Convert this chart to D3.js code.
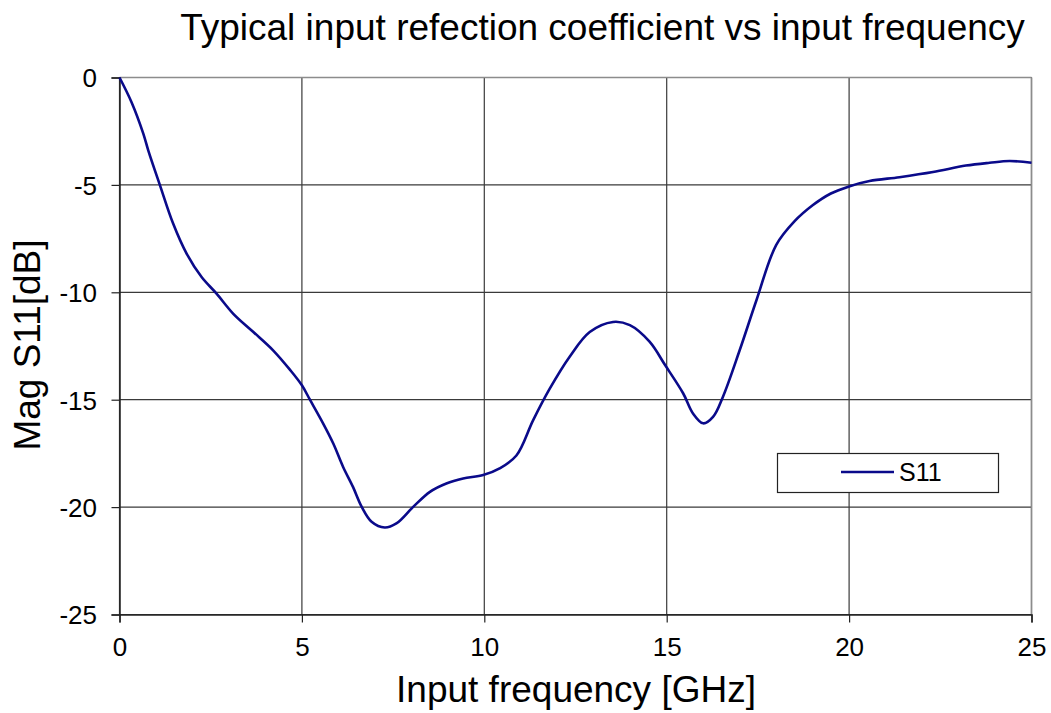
<!DOCTYPE html>
<html>
<head>
<meta charset="utf-8">
<script src="https://cdn.jsdelivr.net/npm/d3@7"></script>
<style>
body{margin:0;background:#fff;}
svg{display:block;font-family:"Liberation Sans",Arial,sans-serif;}
</style>
</head>
<body>
<svg id="chart" width="1051" height="713"></svg>
<script>
const freq = [0, 0.33, 0.65, 0.79, 1.11, 1.47, 1.84, 2.25, 2.66, 3.12, 3.67, 4.21, 4.67, 5.0, 5.22, 5.58, 5.86, 6.13, 6.4, 6.64, 6.91, 7.27, 7.59, 8.05, 8.51, 8.96, 9.42, 9.97, 10.42, 10.88, 11.34, 11.79, 12.34, 12.89, 13.53, 13.99, 14.53, 14.96, 15.45, 15.72, 16.0, 16.27, 16.54, 17.0, 17.46, 18.0, 18.5, 19.0, 19.5, 20.0, 20.56, 21.38, 22.3, 23.2, 23.85, 24.4, 25.0];
const s11 = [0, -1.15, -2.6, -3.4, -5.02, -6.8, -8.2, -9.29, -10.06, -11.0, -11.85, -12.7, -13.6, -14.33, -15.0, -16.1, -17.04, -18.13, -19.06, -19.99, -20.68, -20.95, -20.76, -19.99, -19.29, -18.9, -18.67, -18.51, -18.2, -17.6, -15.95, -14.5, -13.0, -11.85, -11.38, -11.53, -12.3, -13.4, -14.7, -15.64, -16.1, -15.8, -14.87, -12.7, -10.37, -7.8, -6.7, -5.95, -5.4, -5.07, -4.82, -4.64, -4.4, -4.1, -3.97, -3.89, -3.97];
const xTicks = [0, 5, 10, 15, 20, 25];
const yTicks = [0, -5, -10, -15, -20, -25];
const seriesName = "S11";
const titleText = "Typical input refection coefficient vs input frequency";
const xLabel = "Input frequency [GHz]";
const yLabel = "Mag S11[dB]";

const svg = d3.select("#chart");
const L = 119.5, R = 1031.5, T = 77.5, B = 614.5;
const x = d3.scaleLinear().domain([0, 25]).range([L, R]);
const y = d3.scaleLinear().domain([-25, 0]).range([B, T]);

// grid
const g = svg.append("g");
g.selectAll(".vg").data(xTicks).join("line")
  .attr("x1", d => x(d)).attr("x2", d => x(d)).attr("y1", T).attr("y2", B)
  .attr("stroke", "#3a3a3a").attr("stroke-width", 1.2);
g.selectAll(".hg").data(yTicks).join("line")
  .attr("x1", L).attr("x2", R).attr("y1", d => y(d)).attr("y2", d => y(d))
  .attr("stroke", "#3a3a3a").attr("stroke-width", 1.2);
svg.append("line").attr("x1", L).attr("x2", R).attr("y1", T).attr("y2", T).attr("stroke", "#8c8c8c").attr("stroke-width", 1.5);
svg.append("line").attr("x1", R).attr("x2", R).attr("y1", T).attr("y2", B).attr("stroke", "#8c8c8c").attr("stroke-width", 1.5);

// axes
const xAxis = d3.axisBottom(x).tickValues(xTicks).tickSize(8).tickFormat(d3.format("d"));
const yAxis = d3.axisLeft(y).tickValues(yTicks).tickSize(8).tickPadding(14.5).tickFormat(d => d === 0 ? "0" : "-" + Math.abs(d));
const xa = svg.append("g").attr("transform", `translate(0,${B})`).call(xAxis);
const ya = svg.append("g").attr("transform", `translate(${L},0)`).call(yAxis);
[xa, ya].forEach(a => {
  a.select(".domain").attr("stroke", "#222").attr("stroke-width", 1.5);
  a.selectAll(".tick line").attr("stroke", "#222").attr("stroke-width", 1.2);
  a.selectAll("text").attr("font-size", 26).attr("fill", "#000").attr("font-family", "Liberation Sans, Arial, sans-serif");
});
xa.selectAll("text").attr("y", 41.5).attr("dy", 0);
ya.selectAll("text").attr("dy", "0.36em");

// line
const data = freq.map((f, i) => ({f, v: s11[i]}));
svg.append("path").datum(data)
  .attr("fill", "none").attr("stroke", "#0a0a8a").attr("stroke-width", 2.6)
  .attr("d", d3.line().x(d => x(d.f)).y(d => y(d.v)).curve(d3.curveCatmullRom.alpha(0.5)));

// legend
const lg = svg.append("g");
lg.append("rect").attr("x", 777.5).attr("y", 453.5).attr("width", 221).attr("height", 39)
  .attr("fill", "#fff").attr("stroke", "#222").attr("stroke-width", 1.2);
lg.append("line").attr("x1", 841).attr("x2", 894).attr("y1", 472).attr("y2", 472)
  .attr("stroke", "#0a0a8a").attr("stroke-width", 2.4);
lg.append("text").attr("x", 899).attr("y", 481).attr("font-size", 25).text(seriesName);

// titles
svg.append("text").attr("x", 602.5).attr("y", 40).attr("text-anchor", "middle").attr("font-size", 37).text(titleText);
svg.append("text").attr("x", 576).attr("y", 702).attr("text-anchor", "middle").attr("font-size", 37).text(xLabel);
svg.append("text").attr("transform", "translate(40,345) rotate(-90)").attr("text-anchor", "middle").attr("font-size", 37).text(yLabel);
</script>
</body>
</html>
